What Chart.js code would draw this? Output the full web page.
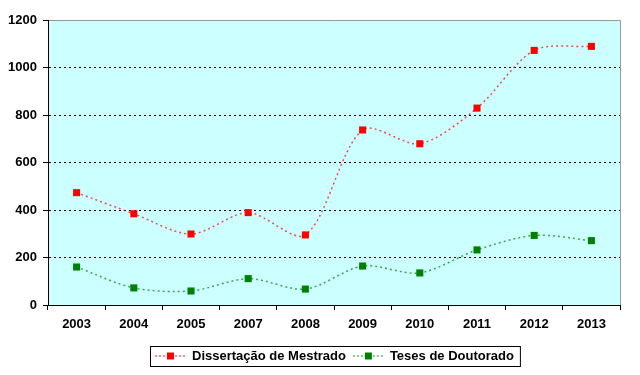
<!DOCTYPE html>
<html><head><meta charset="utf-8">
<script src="https://cdn.jsdelivr.net/npm/chart.js@4/dist/chart.umd.min.js"></script>
<style>html,body{margin:0;padding:0;background:#fff}#wrap{width:640px;height:375px}</style>
</head><body><div id="wrap"><canvas id="c" width="640" height="375"></canvas></div>
<script>
const categories = ["2003","2004","2005","2007","2008","2009","2010","2011","2012","2013"];
const mestrado = [473, 384, 299, 389, 295, 737, 679, 829, 1072, 1089];
const doutorado = [160, 72, 59, 111, 67, 164, 135, 232, 293, 271];
const seriesNames = ["Dissertação de Mestrado", "Teses de Doutorado"];
const yTicks = [0, 200, 400, 600, 800, 1000, 1200];

const FONT = {family: "'Liberation Sans', Arial, sans-serif", size: 13, weight: "bold"};

const bgPlugin = {
  id: 'bg',
  beforeDraw(chart) {
    const {ctx, chartArea: a} = chart;
    ctx.save();
    ctx.fillStyle = '#CCFFFF';
    ctx.fillRect(a.left, a.top, a.right - a.left, a.bottom - a.top);
    ctx.strokeStyle = '#999999';
    ctx.lineWidth = 1;
    ctx.beginPath();
    ctx.moveTo(a.left, a.top + 0.5);
    ctx.lineTo(a.right + 0.5, a.top + 0.5);
    ctx.lineTo(a.right + 0.5, a.bottom);
    ctx.stroke();
    ctx.restore();
  },
  afterDraw(chart) {
    const ctx = chart.ctx;
    ctx.save();
    ctx.font = "bold 13px 'Liberation Sans', Arial, sans-serif";
    ctx.textBaseline = 'middle';
    const y = 356;
    const items = [
      {x: 155, color: '#FF0000', text: seriesNames[0]},
      {x: 0, color: '#008000', text: seriesNames[1]}
    ];
    const w0 = ctx.measureText(items[0].text).width;
    items[1].x = 155 + 37 + w0 + 7;
    const w1 = ctx.measureText(items[1].text).width;
    const boxL = 150, boxR = items[1].x + 37 + w1 + 6;
    ctx.strokeStyle = '#000';
    ctx.lineWidth = 1;
    ctx.strokeRect(boxL + 0.5, 346.5, boxR - boxL, 20);
    items.forEach(it => {
      ctx.strokeStyle = it.color;
      ctx.globalAlpha = 0.6;
      ctx.lineWidth = 1.5;
      ctx.setLineDash([2, 2]);
      ctx.beginPath();
      ctx.moveTo(it.x, y);
      ctx.lineTo(it.x + 32, y);
      ctx.stroke();
      ctx.setLineDash([]);
      ctx.globalAlpha = 1;
      ctx.fillStyle = it.color;
      ctx.fillRect(it.x + 12, y - 3.5, 7, 7);
      ctx.fillStyle = '#000';
      ctx.fillText(it.text, it.x + 37, y + 0.5);
    });
    ctx.restore();
  }
};

new Chart(document.getElementById('c'), {
  type: 'line',
  data: {
    labels: categories,
    datasets: [
      {label: seriesNames[0], data: mestrado, borderColor: 'rgba(255,0,0,0.7)', backgroundColor: '#FF0000',
       borderWidth: 1.5, borderDash: [2, 3], tension: 0.3, pointStyle: 'rect', pointRadius: 5,
       pointBorderWidth: 0, pointBackgroundColor: '#FF0000', fill: false},
      {label: seriesNames[1], data: doutorado, borderColor: 'rgba(0,128,0,0.7)', backgroundColor: '#008000',
       borderWidth: 1.5, borderDash: [2, 3], tension: 0.3, pointStyle: 'rect', pointRadius: 5,
       pointBorderWidth: 0, pointBackgroundColor: '#008000', fill: false}
    ]
  },
  options: {
    responsive: false,
    animation: false,
    devicePixelRatio: 1,
    layout: {padding: {left: 0, top: 20, right: 20, bottom: 0}},
    plugins: {legend: {display: false}, tooltip: {enabled: false}},
    scales: {
      x: {
        offset: true,
        grid: {offset: true, drawOnChartArea: false, tickLength: 5, color: '#000', tickColor: '#000'},
        border: {color: '#000', width: 1},
        ticks: {color: '#000', font: FONT, padding: 7, maxRotation: 0, autoSkip: false},
        afterFit(s) { s.height = 70; }
      },
      y: {
        min: 0, max: 1200,
        afterBuildTicks(s) { s.ticks = yTicks.map(v => ({value: v})); },
        grid: {
          tickLength: 5, tickColor: '#000', tickBorderDash: [],
          color: ctx => (ctx.tick && (ctx.tick.value === 0 || ctx.tick.value === 1200)) ? 'rgba(0,0,0,0)' : '#000',
          lineWidth: 1
        },
        border: {color: '#000', width: 1, dash: [2, 3]},
        ticks: {color: '#000', font: FONT, padding: 6, callback: v => String(v)},
        afterFit(s) { s.width = 48; }
      }
    }
  },
  plugins: [bgPlugin]
});
</script>
</body></html>
